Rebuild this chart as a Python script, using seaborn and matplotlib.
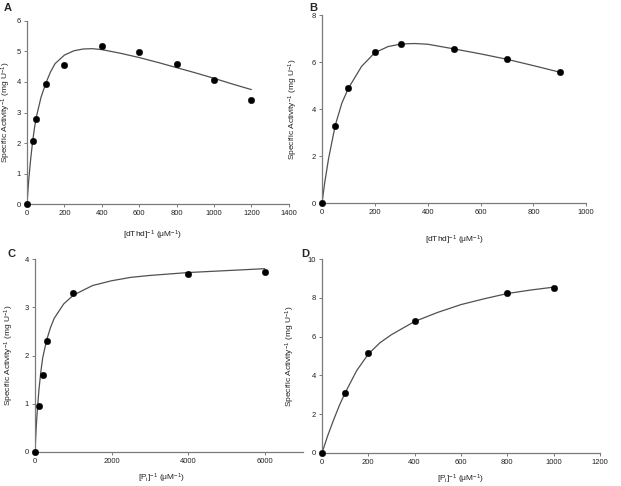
import numpy as np
import pandas as pd
import matplotlib
matplotlib.use("Agg")
import matplotlib.pyplot as plt
import seaborn as sns

# Panel A: dThd saturation, with substrate inhibition
a_x = [0, 30, 50, 100, 200, 400, 600, 800, 1000, 1200]
a_y = [0, 2.06, 2.78, 3.94, 4.55, 5.18, 4.98, 4.60, 4.06, 3.41]
a_fit_x = [0, 5, 10, 20, 30, 40, 50, 75, 100, 125, 150, 200, 250, 300, 350, 400,
           500, 600, 700, 800, 900, 1000, 1100, 1200]
a_fit_y = [0, 0.45, 0.85, 1.50, 2.05, 2.50, 2.86, 3.50, 3.95, 4.32, 4.60, 4.88, 5.02,
           5.08, 5.09, 5.06, 4.94, 4.80, 4.64, 4.47, 4.30, 4.12, 3.93, 3.75]

# Panel B
b_x = [0, 50, 100, 200, 300, 500, 700, 900]
b_y = [0, 3.30, 4.89, 6.43, 6.77, 6.54, 6.12, 5.57]
b_fit_x = [0, 10, 25, 50, 75, 100, 150, 200, 250, 300, 350, 400, 500, 600, 700, 800, 900]
b_fit_y = [0, 0.85, 1.90, 3.30, 4.25, 4.89, 5.82, 6.40, 6.66, 6.77, 6.79, 6.76, 6.56, 6.35,
           6.12, 5.85, 5.57]

# Panel C: Pi saturation
c_x = [0, 100, 200, 300, 1000, 4000, 6000]
c_y = [0, 0.96, 1.60, 2.30, 3.30, 3.70, 3.73]
c_fit_x = [0, 25, 50, 100, 150, 200, 300, 400, 500, 750, 1000, 1500, 2000, 2500, 3000,
           4000, 5000, 6000]
c_fit_y = [0, 0.42, 0.75, 1.27, 1.65, 1.95, 2.31, 2.57, 2.77, 3.07, 3.25, 3.45, 3.55,
           3.62, 3.66, 3.72, 3.76, 3.80]

# Panel D
d_x = [0, 100, 200, 400, 800, 1000]
d_y = [0, 3.10, 5.18, 6.79, 8.27, 8.52]
d_fit_x = [0, 25, 50, 75, 100, 150, 200, 250, 300, 400, 500, 600, 700, 800, 900, 1000]
d_fit_y = [0, 0.90, 1.70, 2.45, 3.10, 4.25, 5.10, 5.68, 6.10, 6.78, 7.25, 7.65, 7.95,
           8.22, 8.40, 8.55]

sns.set_style("ticks")
plt.rcParams['font.family'] = ['Liberation Sans', 'DejaVu Sans']
plt.rcParams['mathtext.fontset'] = 'custom'
plt.rcParams['mathtext.rm'] = 'Liberation Sans'
plt.rcParams['mathtext.default'] = 'regular'

ylab = "Specific Activity$^{-1}$ (mg U$^{-1}$)"
panels = [
    dict(x=a_x, y=a_y, fx=a_fit_x, fy=a_fit_y, pos=[0.0435, 0.580, 0.4215, 0.377],
         xlim=(0, 1400), xstep=200, ylim=(0, 6), ystep=1,
         xlabel="[dThd]$^{-1}$ (μM$^{-1}$)", ylx=-0.052, xly=-0.135, xlx=0.48),
    dict(x=b_x, y=b_y, fx=b_fit_x, fy=b_fit_y, pos=[0.5185, 0.582, 0.4255, 0.387],
         xlim=(0, 1000), xstep=200, ylim=(0, 8), ystep=2,
         xlabel="[dThd]$^{-1}$ (μM$^{-1}$)", ylx=-0.083, xly=-0.165, xlx=0.50),
    dict(x=c_x, y=c_y, fx=c_fit_x, fy=c_fit_y, pos=[0.0564, 0.070, 0.4316, 0.397],
         xlim=(0, 7000), xstep=2000, ylim=(0, 4), ystep=1,
         xlabel="[P$_i$]$^{-1}$ (μM$^{-1}$)", ylx=-0.07, xly=-0.10, xlx=0.47),
    dict(x=d_x, y=d_y, fx=d_fit_x, fy=d_fit_y, pos=[0.5185, 0.068, 0.4475, 0.399],
         xlim=(0, 1200), xstep=200, ylim=(0, 10), ystep=2,
         xlabel="[P$_i$]$^{-1}$ (μM$^{-1}$)", ylx=-0.09, xly=-0.10, xlx=0.50),
]

fig = plt.figure(figsize=(6.21, 4.86), dpi=100)
for p in panels:
    ax = fig.add_axes(p["pos"])
    fit = pd.DataFrame({"x": p["fx"], "y": p["fy"]})
    pts = pd.DataFrame({"x": p["x"], "y": p["y"]})
    sns.lineplot(data=fit, x="x", y="y", ax=ax, color="#505050", linewidth=0.9,
                 estimator=None, sort=False)
    sns.scatterplot(data=pts, x="x", y="y", ax=ax, color="black", s=22,
                    edgecolor="black", linewidth=0.3, zorder=3, clip_on=False)
    ax.set_xlim(*p["xlim"])
    ax.set_ylim(*p["ylim"])
    ax.set_xticks(np.arange(p["xlim"][0], p["xlim"][1] + 1, p["xstep"]))
    ax.set_yticks(np.arange(p["ylim"][0], p["ylim"][1] + 0.01, p["ystep"]))
    for s in ["top", "right"]:
        ax.spines[s].set_visible(False)
    for s in ["left", "bottom"]:
        ax.spines[s].set_color("#7a7a7a")
        ax.spines[s].set_linewidth(0.9)
    ax.tick_params(axis="both", labelsize=5.5, length=2.5, width=0.7,
                   color="#7a7a7a", pad=2, labelcolor="#222222")
    ax.set_ylabel(ylab, fontsize=6, color="#222222")
    ax.set_xlabel(p["xlabel"], fontsize=6, color="#222222")
    ax.yaxis.set_label_coords(p["ylx"], 0.5)
    ax.xaxis.set_label_coords(p["xlx"], p["xly"])

for lbl, x, y in [("A", 0.013, 0.983), ("B", 0.504, 0.983), ("C", 0.019, 0.478), ("D", 0.491, 0.478)]:
    fig.text(x, y, lbl, fontsize=8, fontweight="bold", ha="center", va="center")

fig.savefig("out.png", dpi=100)
